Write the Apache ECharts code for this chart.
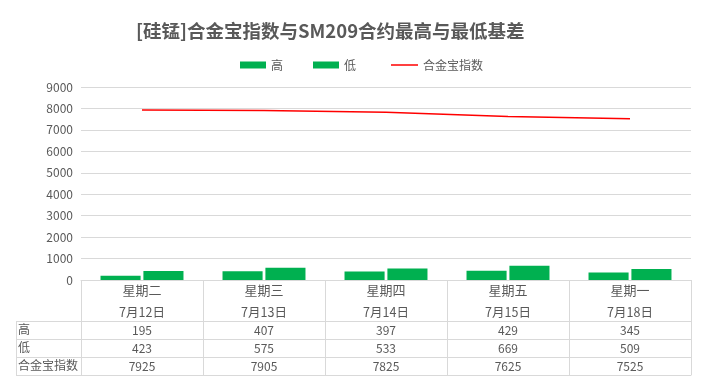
<!DOCTYPE html>
<html>
<head>
<meta charset="utf-8">
<script src="https://cdn.jsdelivr.net/npm/echarts@6/dist/echarts.min.js"></script>
<style>html,body{margin:0;padding:0;background:#fff}#c{width:710px;height:389px}</style>
</head>
<body>
<div id="c"></div>
<script>
var weekdays = ['星期二', '星期三', '星期四', '星期五', '星期一'];
var dates = ['7月12日', '7月13日', '7月14日', '7月15日', '7月18日'];
var highVals = [195, 407, 397, 429, 345];
var lowVals = [423, 575, 533, 669, 509];
var indexVals = [7925, 7905, 7825, 7625, 7525];
var yTicks = [0, 1000, 2000, 3000, 4000, 5000, 6000, 7000, 8000, 9000];

var FONT = '"Noto Sans CJK SC", "Microsoft YaHei", sans-serif';
var TXT = '#595959';
var LINE = '#d9d9d9';
var GL = 81, GR = 691, GT = 87, GB = 280;
var headerH = 41, rowH = 18;
var tableLeft = 16;

var chart = echarts.init(document.getElementById('c'));

function rowAxis(vals, offset, tickLen) {
  return {
    type: 'category', position: 'bottom', offset: offset,
    data: vals.map(String), gridIndex: 0,
    axisLine: { show: true, lineStyle: { color: LINE, width: 1 } },
    axisTick: { show: tickLen > 0, interval: 0, length: tickLen, lineStyle: { color: LINE } },
    axisLabel: { show: tickLen > 0, interval: 0, color: TXT, fontSize: 12, fontFamily: FONT, margin: 3 },
    splitLine: { show: false }
  };
}

var rowNames = ['高', '低', '合金宝指数'];
var graphics = [];
var rowTops = [GB + headerH, GB + headerH + rowH, GB + headerH + 2 * rowH, GB + headerH + 3 * rowH];
rowTops.forEach(function (y) {
  graphics.push({ type: 'line', shape: { x1: tableLeft, y1: y + 0.5, x2: GL, y2: y + 0.5 }, style: { stroke: LINE, lineWidth: 1 } });
});
graphics.push({ type: 'line', shape: { x1: tableLeft + 0.5, y1: rowTops[0], x2: tableLeft + 0.5, y2: rowTops[3] }, style: { stroke: LINE, lineWidth: 1 } });
graphics.push({ type: 'line', shape: { x1: GL + 0.5, y1: GB, x2: GL + 0.5, y2: rowTops[3] }, style: { stroke: LINE, lineWidth: 1 } });
rowNames.forEach(function (n, i) {
  graphics.push({ type: 'text', left: tableLeft + 2, top: rowTops[i] + 2, style: { text: n, fill: TXT, font: '12px ' + FONT } });
});

chart.setOption({
  animation: false,
  title: {
    text: '[硅锰]合金宝指数与SM209合约最高与最低基差',
    left: 131, top: 17,
    textStyle: { color: TXT, fontSize: 18.5, fontWeight: 'bold', fontFamily: FONT }
  },
  legend: [
    {
      top: 54, left: 235, itemWidth: 26, itemHeight: 7, itemGap: 30,
      textStyle: { color: TXT, fontSize: 12, fontFamily: FONT },
      data: [{ name: '高', icon: 'rect' }, { name: '低', icon: 'rect' }]
    },
    {
      top: 54, left: 386, itemWidth: 27, itemHeight: 1.5, itemGap: 30,
      textStyle: { color: TXT, fontSize: 12, fontFamily: FONT },
      data: [{ name: '合金宝指数', icon: 'rect' }]
    }
  ],
  grid: { left: GL, right: 710 - GR, top: GT, bottom: 389 - GB, containLabel: false },
  yAxis: {
    type: 'value', min: yTicks[0], max: yTicks[yTicks.length - 1], interval: 1000,
    axisLine: { show: false }, axisTick: { show: false },
    axisLabel: { color: TXT, fontSize: 12, fontFamily: FONT, margin: 8, formatter: function (v) { return String(v); } },
    splitLine: { lineStyle: { color: LINE, width: 1 } }
  },
  xAxis: [
    {
      type: 'category', data: weekdays, position: 'bottom',
      axisLine: { lineStyle: { color: LINE, width: 1 } },
      axisTick: { show: true, interval: 0, length: headerH, lineStyle: { color: LINE } },
      axisLabel: {
        interval: 0, margin: 0, color: TXT, fontFamily: FONT,
        formatter: function (v, i) { return '{a|' + v + '}\n{b|' + dates[i] + '}'; },
        rich: { a: { fontSize: 13, lineHeight: 21, color: TXT, fontFamily: FONT }, b: { fontSize: 12.5, lineHeight: 22, color: TXT, fontFamily: FONT } }
      }
    },
    rowAxis(highVals, headerH, rowH),
    rowAxis(lowVals, headerH + rowH, rowH),
    rowAxis(indexVals, headerH + 2 * rowH, rowH),
    rowAxis(weekdays, headerH + 3 * rowH, 0)
  ],
  series: [
    { name: '高', type: 'bar', data: highVals, itemStyle: { color: '#00B050' }, barCategoryGap: '32%', barGap: '7%' },
    { name: '低', type: 'bar', data: lowVals, itemStyle: { color: '#00B050' } },
    { name: '合金宝指数', type: 'line', data: indexVals, symbol: 'none', lineStyle: { color: '#FF0000', width: 1.5 }, itemStyle: { color: '#FF0000' } }
  ],
  graphic: graphics
});
</script>
</body>
</html>
